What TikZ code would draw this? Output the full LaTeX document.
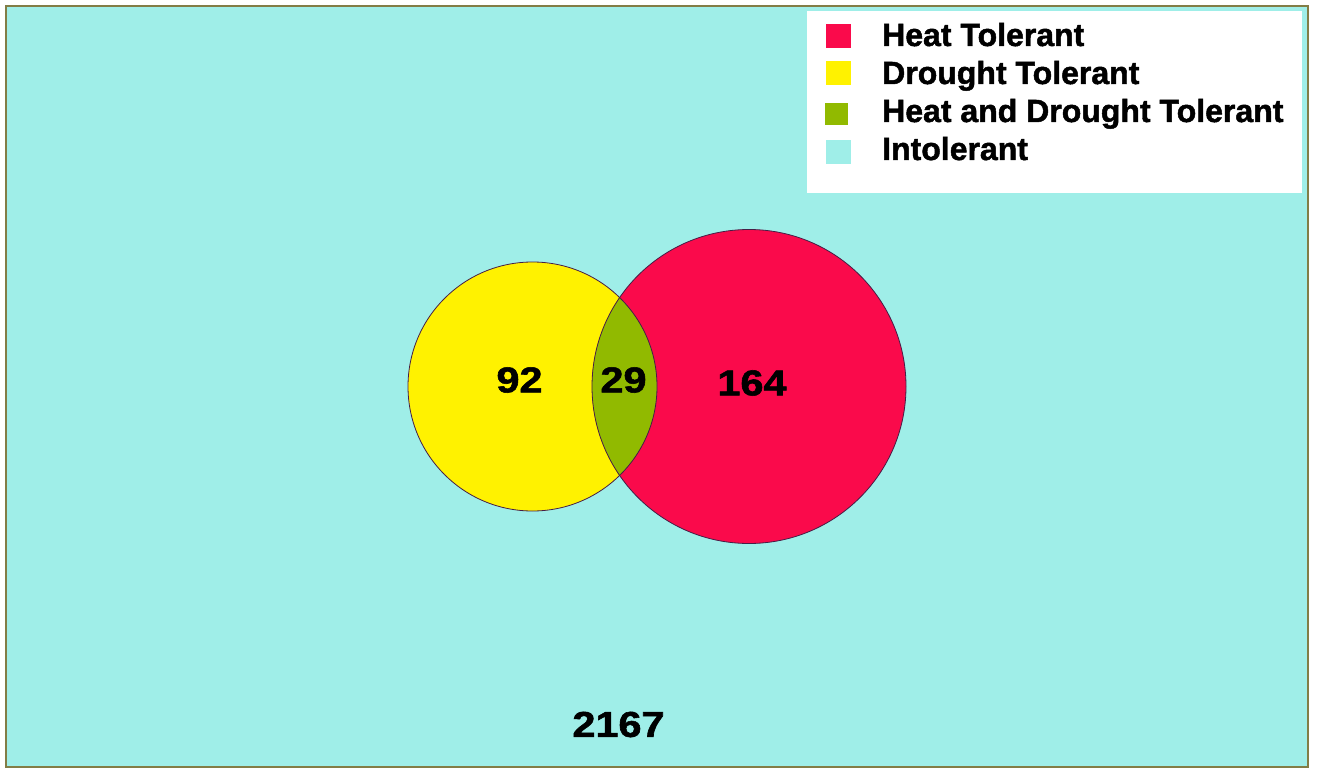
\documentclass[tikz,border=0pt]{standalone}
\usepackage{fontspec}
\setmainfont{Liberation Sans}[BoldFeatures={FakeBold=1.5}]
\definecolor{bgcyan}{RGB}{159,238,232}
\definecolor{frame}{RGB}{130,125,70}
\definecolor{heatred}{RGB}{250,10,75}
\definecolor{drouyel}{RGB}{255,242,0}
\definecolor{bothgrn}{RGB}{145,186,0}
\definecolor{outline}{RGB}{70,30,70}
\tikzset{
  legsq/.style={inner sep=0pt, minimum width=25pt, minimum height=24pt, anchor=north west},
  legtxt/.style={anchor=base west, inner sep=0pt, font=\fontsize{32}{38}\selectfont\bfseries},
  numtxt/.style={inner sep=0pt, font=\fontsize{36}{40}\selectfont\bfseries},
}
\newcommand{\wnum}[1]{\scalebox{1.15}[1]{#1}}
\begin{document}
\begin{tikzpicture}[x=1pt,y=-1pt]
\useasboundingbox (0,0) rectangle (1317,773);
\fill[white] (0,0) rectangle (1317,773);
\draw[frame, line width=2pt, fill=bgcyan] (6,6) rectangle (1308,767);
% legend
\fill[white] (807,11) rectangle (1302,193);
\node[legsq, fill=heatred] (sqh) at (826,24) {};
\node[legsq, fill=drouyel] (sqd) at (826,61) {};
\node[legsq, fill=bothgrn, minimum width=23pt, minimum height=22pt] (sqb) at (825,103) {};
\node[legsq, fill=bgcyan] (sqi) at (826,140) {};
\node[legtxt] (th) at (882,46) {Heat Tolerant};
\node[legtxt] (td) at (882,84) {Drought Tolerant};
\node[legtxt] (tb) at (882,122) {Heat and Drought Tolerant};
\node[legtxt] (ti) at (882,160) {Intolerant};
% circles
\node[circle, inner sep=0pt, minimum size=249pt, fill=drouyel] (dt) at (532.5,386.5) {};
\node[circle, inner sep=0pt, minimum size=314pt, fill=heatred] (ht) at (749,386.5) {};
\begin{scope}
  \clip (532.5,386.5) circle (124.5pt);
  \fill[bothgrn] (749,386.5) circle (157pt);
\end{scope}
\draw[outline, line width=0.8pt] (532.5,386.5) circle (124.5pt);
\draw[outline, line width=0.8pt] (749,386.5) circle (157pt);
% numbers
\node[numtxt] (n92) at (519.5,380) {\wnum{92}};
\node[numtxt] (n29) at (623.5,380) {\wnum{29}};
\node[numtxt] (n164) at (752,383) {\wnum{164}};
\node[numtxt] (n2167) at (618.5,724.5) {\wnum{2167}};
\end{tikzpicture}
\end{document}
